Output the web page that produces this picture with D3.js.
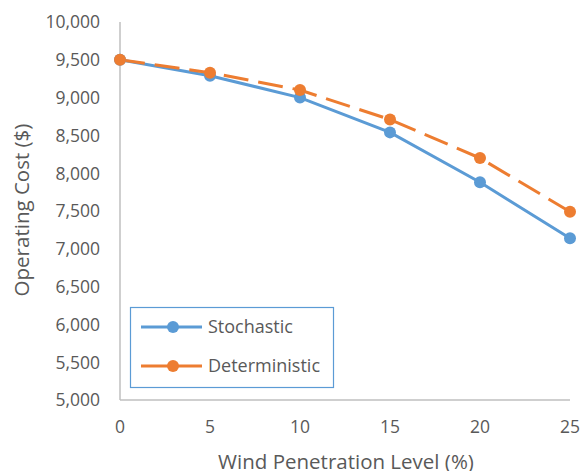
<!DOCTYPE html>
<html><head><meta charset="utf-8">
<script src="https://cdn.jsdelivr.net/npm/d3@7"></script>
<style>body{margin:0;background:#fff}svg{display:block}text{font-family:"Open Sans",sans-serif;fill:#595959}</style>
</head><body><svg id="c" width="582" height="471"></svg>
<script>
const xValues = [0, 5, 10, 15, 20, 25];
const stochastic = [9500, 9290, 9000, 8540, 7880, 7140];
const deterministic = [9500, 9330, 9100, 8710, 8200, 7490];
const yTicks = [5000, 5500, 6000, 6500, 7000, 7500, 8000, 8500, 9000, 9500, 10000];
const seriesNames = ["Stochastic", "Deterministic"];
const colors = ["#5B9BD5", "#ED7D31"];

const svg = d3.select("#c");
const x = d3.scaleLinear().domain([0, 25]).range([120, 570]);
const y = d3.scaleLinear().domain([5000, 10000]).range([400, 22]);
const fmt = d3.format(",");

svg.append("line").attr("x1", 120).attr("x2", 120).attr("y1", y(10000)).attr("y2", y(5000)).attr("stroke", "#bfbfbf").attr("stroke-width", 1.5);
svg.append("line").attr("x1", 120).attr("x2", 570).attr("y1", y(5000)).attr("y2", y(5000)).attr("stroke", "#bfbfbf").attr("stroke-width", 1.5);

svg.append("g").selectAll("text").data(yTicks).join("text")
  .attr("x", 100).attr("y", d => y(d)).attr("dy", "0.36em").attr("text-anchor", "end")
  .attr("font-size", 17.5).text(d => fmt(d));
svg.append("g").selectAll("text").data(xValues).join("text")
  .attr("x", d => x(d)).attr("y", 433).attr("text-anchor", "middle")
  .attr("font-size", 17.5).text(d => d);

svg.append("text").attr("transform", "translate(29,210) rotate(-90)").attr("text-anchor", "middle").attr("font-size", 20.5).text("Operating Cost ($)");
svg.append("text").attr("x", 346).attr("y", 469).attr("text-anchor", "middle").attr("font-size", 20.5).text("Wind Penetration Level (%)");

const line = d3.line().x((d, i) => x(xValues[i])).y(d => y(d));
const data = [stochastic, deterministic];
data.forEach((s, k) => {
  svg.append("path").attr("d", line(s)).attr("fill", "none").attr("stroke", colors[k]).attr("stroke-width", 3)
    .attr("stroke-dasharray", k === 1 ? "25,10" : null);
});
data.forEach((s, k) => {
  svg.append("g").selectAll("circle").data(s).join("circle")
    .attr("cx", (d, i) => x(xValues[i])).attr("cy", d => y(d)).attr("r", 6).attr("fill", colors[k]);
});

const lg = svg.append("g");
lg.append("rect").attr("x", 130.5).attr("y", 307.5).attr("width", 203).attr("height", 80).attr("fill", "#fff").attr("stroke", "#5B9BD5").attr("stroke-width", 1.2);
seriesNames.forEach((n, k) => {
  const yy = 327 + k * 39;
  lg.append("line").attr("x1", 141).attr("x2", 202).attr("y1", yy).attr("y2", yy).attr("stroke", colors[k]).attr("stroke-width", 3);
  lg.append("circle").attr("cx", 173).attr("cy", yy).attr("r", 6).attr("fill", colors[k]);
  lg.append("text").attr("x", 208).attr("y", yy).attr("dy", "0.36em").attr("font-size", 18).text(n);
});
</script></body></html>
